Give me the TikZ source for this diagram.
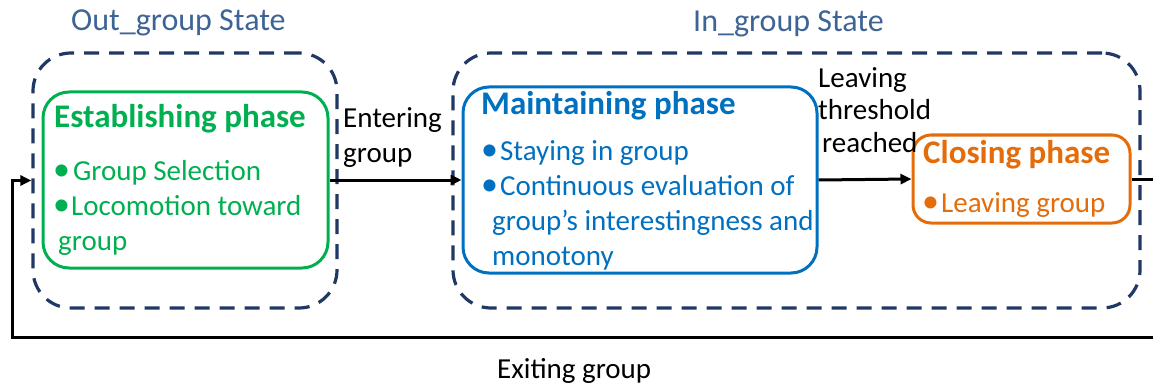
\documentclass[tikz,border=0pt]{standalone}
\usepackage{fontspec}
\setmainfont{Carlito}
\usetikzlibrary{arrows.meta}

\definecolor{estgreen}{RGB}{0,176,80}
\definecolor{mntblue}{RGB}{0,112,192}
\definecolor{clsorange}{RGB}{228,108,10}
\definecolor{statenavy}{RGB}{31,56,100}
\definecolor{titleblue}{RGB}{62,100,150}

\newcommand{\itemdot}{{\fontsize{34}{35}\selectfont•}}

\tikzset{
  statebox/.style={draw=statenavy, line width=3.2pt, dash pattern=on 15pt off 10pt,
    rounded corners=38pt, inner sep=0pt},
  phasebox/.style={draw=#1, line width=3pt, rounded corners=26pt, inner sep=0pt},
  txt/.style={anchor=base west, inner sep=0pt, font=\fontsize{29}{35}\selectfont},
  head/.style={anchor=base west, inner sep=0pt, font=\fontsize{33}{37}\selectfont\bfseries},
  statetitle/.style={anchor=base west, inner sep=0pt, text=titleblue,
    font=\fontsize{32}{38}\selectfont},
  flow/.style={draw=black, line width=3pt, -{Triangle[length=11pt,width=10pt]}},
  plainflow/.style={draw=black, line width=3pt},
}

\begin{document}
\begin{tikzpicture}[x=1pt, y=-1pt]
  \useasboundingbox (0,0) rectangle (1153,385);

  % state containers
  \node[statebox, minimum width=304pt, minimum height=255pt] (outS) at (185,180.5) {};
  \node[statebox, minimum width=687pt, minimum height=255pt] (inS) at (796.5,180.5) {};
  \node[statetitle] (outT) at (71,31) {Out\_group State};
  \node[statetitle] (inT) at (693,32) {In\_group State};

  % phases
  \node[phasebox=estgreen, minimum width=285pt, minimum height=176pt] (est) at (185.5,180) {};
  \node[phasebox=mntblue, minimum width=354pt, minimum height=186pt] (mnt) at (640,180) {};
  \node[phasebox=clsorange, rounded corners=18pt, minimum width=217pt, minimum height=88pt] (cls) at (1021.5,179) {};

  % establishing phase text
  \node[head, text=estgreen] (estH) at (54,128) {Establishing phase};
  \node[txt, text=estgreen] (est1) at (53,180) {\itemdot\hspace{3pt}Group Selection};
  \node[txt, text=estgreen] (est2) at (53,215) {\itemdot\hspace{1pt}Locomotion toward};
  \node[txt, text=estgreen] (est3) at (58,250) {group};

  % maintaining phase text
  \node[head, text=mntblue] (mntH) at (481,115) {Maintaining phase};
  \node[txt, text=mntblue] (mnt1) at (481,160) {\itemdot\hspace{2pt}Staying in group};
  \node[txt, text=mntblue] (mnt2) at (481,195) {\itemdot\hspace{2pt}Continuous evaluation of};
  \node[txt, text=mntblue] (mnt3) at (492,230) {group’s interestingness and};
  \node[txt, text=mntblue] (mnt4) at (492,265) {monotony};

  % closing phase text
  \node[head, text=clsorange] (clsH) at (923,163) {Closing phase};
  \node[txt, text=clsorange] (cls1) at (922,212) {\itemdot\hspace{2pt}Leaving group};

  % transition labels
  \node[txt] (entL1) at (343,128) {Entering};
  \node[txt] (entL2) at (343,162) {group};
  \node[txt] (lvL1) at (818,88) {Leaving};
  \node[txt] (lvL2) at (818,120) {threshold};
  \node[txt] (lvL3) at (822,153) {reached};
  \node[txt] (exL) at (497,378) {Exiting group};

  % transitions
  \coordinate (exitR) at (1153,179);
  \coordinate (exitB) at (1153,337);
  \coordinate (retL) at (12,337);
  \draw[flow] (est.east) -- (mnt.west);
  \draw[flow] (mnt.east) -- (cls.west);
  \draw[plainflow] (cls.east) -- (exitR);
  \draw[flow] (exitB) -- (retL) |- (outS.west);
\end{tikzpicture}
\end{document}
